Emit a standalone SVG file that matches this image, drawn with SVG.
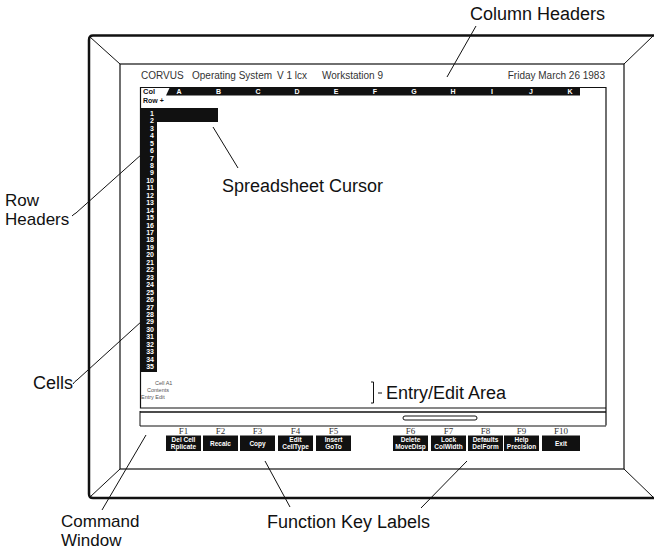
<svg xmlns="http://www.w3.org/2000/svg" width="654" height="549" viewBox="0 0 654 549">
<style>
.lbl{font-family:"Liberation Sans",Arial,sans-serif;font-size:18px;fill:#111}
.lbl2{font-family:"Liberation Sans",Arial,sans-serif;font-size:17px;fill:#111}
.hdr{font-family:"Liberation Sans",Arial,sans-serif;font-size:10px;fill:#333}
.wb{font-family:"Liberation Sans",Arial,sans-serif;font-weight:bold;fill:#fff}
.bb{font-family:"Liberation Sans",Arial,sans-serif;font-weight:bold;fill:#111}
.rn{font-size:7px;text-anchor:end}
.cl{font-size:7px;text-anchor:middle}
.kl{font-size:6.5px;text-anchor:middle}
.sm{font-family:"Liberation Sans",Arial,sans-serif;font-size:5.5px;fill:#555}
.fk{font-family:"Liberation Serif","Times New Roman",serif;font-size:9px;fill:#333;text-anchor:middle}
.lead{stroke:#111;stroke-width:1;fill:none}
.bz{stroke:#111;fill:none}
.blk{fill:#111}
</style>
<rect width="654" height="549" fill="#fff"/>

<g id="bezel">
  <path class="bz" stroke-width="2.5" d="M654,35.5 H93 Q89,35.5 89,40 V494 Q89,498 93,498 H654"/>
  <rect class="bz" stroke-width="1.2" x="120" y="64" width="504" height="405"/>
  <path class="bz" stroke-width="1" d="M90,37 L120,64 M653,36 L624,64 M90,497 L120,469 M653,497 L624,469"/>
</g>

<g id="screen-header">
  <text class="hdr" x="141" y="79">CORVUS</text>
  <text class="hdr" x="192" y="79">Operating System</text>
  <text class="hdr" x="277" y="79">V 1 lcx</text>
  <text class="hdr" x="322" y="79">Workstation 9</text>
  <text class="hdr" x="605" y="79" text-anchor="end">Friday March 26  1983</text>
</g>

<g id="spreadsheet-frame">
  <path class="bz" stroke-width="1.2" d="M170,87.5 H140.5 V408 H606 M580,87.5 H606 V425.5"/>
</g>

<g id="column-headers">
  <path class="blk" d="M166,95.5 L170,87 H580 V95.5 Z"/>
  <text class="bb" x="143" y="94" font-size="7.5">Col</text>
  <text class="bb" x="143" y="103" font-size="7">Row +</text>
  <text class="wb cl" x="179" y="94">A</text>
  <text class="wb cl" x="218.5" y="94">B</text>
  <text class="wb cl" x="258" y="94">C</text>
  <text class="wb cl" x="297" y="94">D</text>
  <text class="wb cl" x="336" y="94">E</text>
  <text class="wb cl" x="375" y="94">F</text>
  <text class="wb cl" x="414" y="94">G</text>
  <text class="wb cl" x="453" y="94">H</text>
  <text class="wb cl" x="492" y="94">I</text>
  <text class="wb cl" x="531" y="94">J</text>
  <text class="wb cl" x="570" y="94">K</text>
</g>

<g id="row-headers">
  <rect class="blk" x="140" y="108" width="17" height="264"/>
  <text class="wb rn" x="154" y="115.8">1</text>
  <text class="wb rn" x="154" y="123.25">2</text>
  <text class="wb rn" x="154" y="130.7">3</text>
  <text class="wb rn" x="154" y="138.15">4</text>
  <text class="wb rn" x="154" y="145.6">5</text>
  <text class="wb rn" x="154" y="153.05">6</text>
  <text class="wb rn" x="154" y="160.5">7</text>
  <text class="wb rn" x="154" y="167.95">8</text>
  <text class="wb rn" x="154" y="175.4">9</text>
  <text class="wb rn" x="154" y="182.85">10</text>
  <text class="wb rn" x="154" y="190.3">11</text>
  <text class="wb rn" x="154" y="197.75">12</text>
  <text class="wb rn" x="154" y="205.2">13</text>
  <text class="wb rn" x="154" y="212.65">14</text>
  <text class="wb rn" x="154" y="220.1">15</text>
  <text class="wb rn" x="154" y="227.55">16</text>
  <text class="wb rn" x="154" y="235">17</text>
  <text class="wb rn" x="154" y="242.45">18</text>
  <text class="wb rn" x="154" y="249.9">19</text>
  <text class="wb rn" x="154" y="257.35">20</text>
  <text class="wb rn" x="154" y="264.8">21</text>
  <text class="wb rn" x="154" y="272.25">22</text>
  <text class="wb rn" x="154" y="279.7">23</text>
  <text class="wb rn" x="154" y="287.15">24</text>
  <text class="wb rn" x="154" y="294.6">25</text>
  <text class="wb rn" x="154" y="302.05">26</text>
  <text class="wb rn" x="154" y="309.5">27</text>
  <text class="wb rn" x="154" y="316.95">28</text>
  <text class="wb rn" x="154" y="324.4">29</text>
  <text class="wb rn" x="154" y="331.85">30</text>
  <text class="wb rn" x="154" y="339.3">31</text>
  <text class="wb rn" x="154" y="346.75">32</text>
  <text class="wb rn" x="154" y="354.2">33</text>
  <text class="wb rn" x="154" y="361.65">34</text>
  <text class="wb rn" x="154" y="369.1">35</text>
</g>

<g id="spreadsheet-cursor">
  <rect class="blk" x="157" y="108" width="61" height="14"/>
</g>

<g id="entry-edit-area">
  <text class="sm" x="155" y="385">Cell A1</text>
  <text class="sm" x="147" y="392">Contents</text>
  <text class="sm" x="141" y="399">Entry Edit</text>
</g>

<g id="command-window">
  <path class="bz" stroke-width="1.5" d="M140,412 H606"/>
  <path class="bz" stroke-width="1" d="M140,411 V426 H606"/>
  <rect x="403" y="416" width="74" height="4" rx="2" fill="#fff" stroke="#111" stroke-width="1"/>
</g>

<g id="function-keys">
  <text class="fk" x="183.5" y="434">F1</text>
  <text class="fk" x="220.5" y="434">F2</text>
  <text class="fk" x="257.5" y="434">F3</text>
  <text class="fk" x="295.5" y="434">F4</text>
  <text class="fk" x="333.5" y="434">F5</text>
  <text class="fk" x="410.5" y="434">F6</text>
  <text class="fk" x="448.5" y="434">F7</text>
  <text class="fk" x="485.5" y="434">F8</text>
  <text class="fk" x="521.5" y="434">F9</text>
  <text class="fk" x="561" y="434">F10</text>
  <rect class="blk" x="166" y="435.5" width="35" height="15.5"/>
  <rect class="blk" x="203" y="435.5" width="35" height="15.5"/>
  <rect class="blk" x="240" y="435.5" width="35" height="15.5"/>
  <rect class="blk" x="278" y="435.5" width="35" height="15.5"/>
  <rect class="blk" x="316" y="435.5" width="35" height="15.5"/>
  <rect class="blk" x="393" y="435.5" width="35" height="15.5"/>
  <rect class="blk" x="431" y="435.5" width="35" height="15.5"/>
  <rect class="blk" x="468" y="435.5" width="35" height="15.5"/>
  <rect class="blk" x="504" y="435.5" width="35" height="15.5"/>
  <rect class="blk" x="542" y="435.5" width="38" height="15.5"/>
  <text class="wb kl" x="183.5" y="441.7">Del Cell</text>
  <text class="wb kl" x="183.5" y="448.7">Rplicate</text>
  <text class="wb kl" x="220.5" y="445.5">Recalc</text>
  <text class="wb kl" x="257.5" y="445.5">Copy</text>
  <text class="wb kl" x="295.5" y="441.7">Edit</text>
  <text class="wb kl" x="295.5" y="448.7">CellType</text>
  <text class="wb kl" x="333.5" y="441.7">Insert</text>
  <text class="wb kl" x="333.5" y="448.7">GoTo</text>
  <text class="wb kl" x="410.5" y="441.7">Delete</text>
  <text class="wb kl" x="410.5" y="448.7">MoveDisp</text>
  <text class="wb kl" x="448.5" y="441.7">Lock</text>
  <text class="wb kl" x="448.5" y="448.7">ColWidth</text>
  <text class="wb kl" x="485.5" y="441.7">Defaults</text>
  <text class="wb kl" x="485.5" y="448.7">DelForm</text>
  <text class="wb kl" x="521.5" y="441.7">Help</text>
  <text class="wb kl" x="521.5" y="448.7">Precision</text>
  <text class="wb kl" x="561" y="445.5">Exit</text>
</g>

<g id="label-column-headers"><text class="lbl" x="470" y="20">Column Headers</text></g>
<g id="label-spreadsheet-cursor"><text class="lbl" x="222" y="192">Spreadsheet Cursor</text></g>
<g id="label-row-headers"><text class="lbl2" x="5" y="206">Row</text><text class="lbl2" x="5" y="225">Headers</text></g>
<g id="label-cells"><text class="lbl" x="33" y="389">Cells</text></g>
<g id="label-entry-edit"><text class="lbl" x="386" y="399">Entry/Edit Area</text></g>
<g id="label-command-window"><text class="lbl2" x="61" y="527">Command</text><text class="lbl2" x="61" y="546">Window</text></g>
<g id="label-function-keys"><text class="lbl" x="267" y="528">Function Key Labels</text></g>

<g id="connectors">
  <path class="lead" d="M476,26 L447,77"/>
  <path class="lead" d="M213,127 L238,168"/>
  <path class="lead" d="M72,216 Q74,214 76,213 L142,154"/>
  <path class="lead" d="M73,384 Q75,381 77,380 L142,321"/>
  <path class="lead" d="M371,382 H373.5 V403 H371 M378,393 H382"/>
  <path class="lead" d="M102,510 L146,435"/>
  <path class="lead" d="M265,461 L290,507"/>
  <path class="lead" d="M467,461 L421,508"/>
</g>
</svg>
